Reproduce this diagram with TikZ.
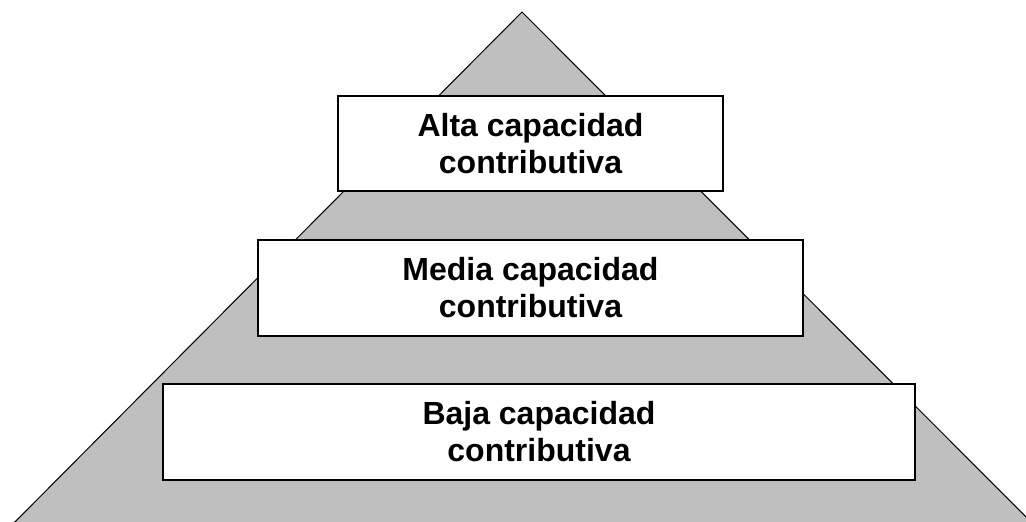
\documentclass[tikz,border=0pt]{standalone}
\usepackage{fontspec}
\setmainfont{Liberation Sans}

\tikzset{
    niveau/.style={draw=black,fill=white,line width=0.7pt,align=center,
        font=\bfseries\fontsize{16}{18.5}\selectfont},
    pyramide/.style={draw=black,fill=black!25,line width=0.5pt}
}

\begin{document}
\begin{tikzpicture}[x=0.5pt,y=-0.5pt]
    % Cadre de l'image
    \clip (0,0) rectangle (1026,522);

    % Sommet et base de la pyramide
    \coordinate (S) at (522,12);
    \coordinate (G) at (-3,540);
    \coordinate (D) at (1049,540);
    \filldraw[pyramide] (S) -- (D) -- (G) -- cycle;

    % Niveaux
    \node[niveau,minimum width=192.5pt,minimum height=47.5pt] (alta) at (530.5,143.5) {Alta capacidad\\contributiva};
    \node[niveau,minimum width=272.5pt,minimum height=48pt] (media) at (530.5,288) {Media capacidad\\contributiva};
    \node[niveau,minimum width=376pt,minimum height=48pt] (baja) at (539,432) {Baja capacidad\\contributiva};

\end{tikzpicture}
\end{document}
